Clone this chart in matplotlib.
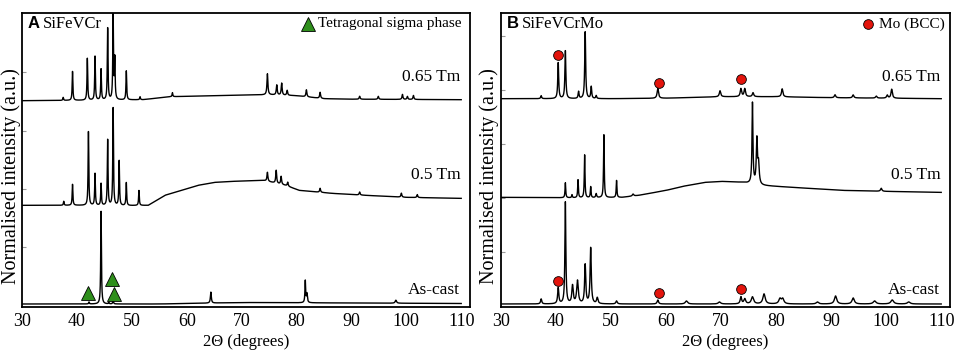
import matplotlib.pyplot as plt
import numpy as np

# ---- panel A: SiFeVCr ----
a_cast_bx = [30, 55, 70, 90, 110]
a_cast_by = [3, 3, 4.5, 4, 3.5]
a_cast_pos = [42.2, 44.4, 45.8, 46.6, 64.4, 81.6, 81.9, 98.1]
a_cast_h = [2, 93, 1.5, 4, 11, 22, 9, 3]
a_cast_w = [0.15, 0.15, 0.15, 0.15, 0.2, 0.15, 0.2, 0.3]

a_05_bx = [30, 40, 47, 53, 56, 59, 62, 65, 68, 74, 78, 80.5, 86.5, 92.7, 100, 110]
a_05_by = [102, 102, 101.5, 102, 112, 117, 122, 125, 126, 127, 122, 117, 114, 112, 110, 109]
a_05_pos = [37.6, 39.2, 42.1, 43.3, 44.4, 45.6, 46.6, 47.7, 49.0, 51.3,
            74.7, 76.3, 77.2, 78.4, 84.3, 91.5, 99.1, 102.0]
a_05_h = [4, 21, 74, 32, 22, 66, 98, 45, 23, 15, 9, 13, 8, 4, 4, 3, 4, 3]
a_05_w = [0.15] * 10 + [0.2] * 8

a_065_bx = [30, 45, 52, 57, 65, 75, 80, 85, 90, 110]
a_065_by = [207, 207.5, 208, 211, 212, 213, 212, 209, 208.5, 208]
a_065_pos = [37.5, 39.2, 41.9, 43.3, 44.4, 45.6, 46.6, 46.9, 49.0, 51.5, 57.4,
             74.7, 76.4, 77.3, 78.3, 81.8, 84.3, 91.5, 94.9, 99.3, 100.2, 101.3]
a_065_h = [3, 29, 42, 44, 31, 72, 86, 40, 29, 3, 4,
           21, 10, 12, 5, 7, 6, 3, 3, 5, 3, 4]
a_065_w = [0.15] * 11 + [0.2] * 11

sigma_x = [42.0, 46.4, 46.7]
sigma_y = [14, 28, 13]

# ---- panel B: SiFeVCrMo ----
b_cast_bx = [30, 110]
b_cast_by = [3, 3]
b_cast_pos = [37.3, 40.4, 41.7, 43.0, 43.9, 45.3, 46.3, 47.5, 51.0, 58.5, 63.7, 69.7,
              73.6, 74.3, 75.7, 77.8, 80.7, 81.2, 87.5, 90.8, 94.0, 97.9, 101.1, 104.1]
b_cast_h = [5, 16, 102, 18, 23, 39, 56, 6, 3, 4, 3, 2,
            7, 5, 7, 10, 5, 5, 2, 8, 6, 3, 4, 2]
b_cast_w = [0.25, 0.25, 0.2, 0.3, 0.35, 0.25, 0.25, 0.3, 0.3, 0.3, 0.5, 0.5,
            0.3, 0.4, 0.5, 0.5, 0.5, 0.5, 0.5, 0.5, 0.5, 0.6, 0.6, 0.6]

b_05_bx = [30, 45, 52, 55, 60, 63, 67, 70, 74, 77, 80, 86, 92, 100, 110]
b_05_by = [110, 109.5, 110, 112, 117, 121, 125, 126, 125, 122, 121, 119, 117, 116, 115]
b_05_pos = [41.7, 42.9, 44.0, 45.2, 46.3, 47.3, 48.7, 51.0, 54.0, 75.7, 76.5, 76.8, 99.1]
b_05_h = [15, 3, 18, 43, 11, 4, 63, 17, 2, 81, 44, 20, 3]
b_05_w = [0.15, 0.15, 0.15, 0.15, 0.15, 0.2, 0.15, 0.15, 0.3, 0.2, 0.25, 0.3, 0.3]

b_065_bx = [30, 50, 60, 70, 80, 90, 110]
b_065_by = [209, 209, 209.5, 211, 211, 210, 209]
b_065_pos = [37.3, 40.4, 41.7, 44.1, 45.3, 46.4, 47.3, 58.5, 69.8, 73.6, 74.3, 75.8,
             81.1, 90.7, 94.0, 98.2, 100.2, 101.0]
b_065_h = [3, 36, 48, 7, 67, 12, 3, 10, 6, 8, 8, 4, 8, 3, 3, 2, 3, 9]
b_065_w = [0.2] * 7 + [0.3] * 11

mo_x = [40.4, 58.7, 73.6, 40.4, 58.7, 73.6]
mo_y = [253, 225, 229, 26, 14, 18]

trace_names = ['0.65 Tm', '0.5 Tm', 'As-cast']
trace_label_y = [231, 132, 17]

x = np.arange(30, 110.001, 0.01)


def pattern(bx, by, pos, h, w):
    y = np.interp(x, bx, by)
    for p, hh, ww in zip(pos, h, w):
        y = y + hh / (1 + ((x - p) / (ww / 2)) ** 2)
    return y


serif = 'Liberation Serif'
fig = plt.figure(figsize=(9.57, 3.5), dpi=100)
axA = fig.add_axes([0.0230, 0.1229, 0.4681, 0.8400])
axB = fig.add_axes([0.5235, 0.1229, 0.4692, 0.8400])

panels = [
    (axA, 'A', 'SiFeVCr', 11,
     [(a_065_bx, a_065_by, a_065_pos, a_065_h, a_065_w),
      (a_05_bx, a_05_by, a_05_pos, a_05_h, a_05_w),
      (a_cast_bx, a_cast_by, a_cast_pos, a_cast_h, a_cast_w)],
     [60, 118.5, 177, 235.5]),
    (axB, 'B', 'SiFeVCrMo', 489,
     [(b_065_bx, b_065_by, b_065_pos, b_065_h, b_065_w),
      (b_05_bx, b_05_by, b_05_pos, b_05_h, b_05_w),
      (b_cast_bx, b_cast_by, b_cast_pos, b_cast_h, b_cast_w)],
     [55, 109, 164, 218, 272]),
]

for ax, letter, alloy, ylab_px, traces, yt in panels:
    for tr in traces:
        ax.plot(x, pattern(*tr), color='black', lw=1.0)
    for name, ly in zip(trace_names, trace_label_y):
        ax.text(0.978, ly, name, transform=ax.get_yaxis_transform(), ha='right', va='center',
                family=serif, fontsize=12.5)
    ax.text(0.013, 0.963, letter, transform=ax.transAxes, ha='left', va='center',
            family='Liberation Sans', fontweight='bold', fontsize=12)
    ax.text(0.047, 0.963, alloy, transform=ax.transAxes, ha='left', va='center',
            family=serif, fontsize=12)
    ax.set_xlim(30, 111.6)
    ax.set_ylim(0, 295)
    ax.set_xticks(range(30, 111, 10))
    ax.set_xticklabels([str(v) for v in range(30, 111, 10)], family=serif, fontsize=13)
    ax.set_yticks(yt)
    ax.set_yticklabels([])
    ax.tick_params(axis='y', direction='in', length=3, color='#999999', width=0.8)
    ax.tick_params(axis='x', length=0, pad=4)
    ax.set_xlabel('2\u0398 (degrees)', family=serif, fontsize=12, labelpad=3)
    fig.text(ylab_px / 957, 1 - 176 / 350, 'Normalised intensity (a.u.)', rotation=90,
             ha='center', va='center', family=serif, fontsize=14.5)
    for sp in ax.spines.values():
        sp.set_linewidth(1.3)

axA.plot(sigma_x, sigma_y, ls='none', marker='^', ms=10, mfc='#2f8f1c', mec='black', mew=0.6)
axA.plot([0.638], [0.963], transform=axA.transAxes, ls='none', marker='^', ms=10,
         mfc='#2f8f1c', mec='black', mew=0.6, clip_on=False)
axA.text(0.982, 0.963, 'Tetragonal sigma phase', transform=axA.transAxes, ha='right',
         va='center', family=serif, fontsize=11)

axB.plot(mo_x, mo_y, ls='none', marker='o', ms=7, mfc='#e3140c', mec='black', mew=0.6)
axB.plot([0.817], [0.963], transform=axB.transAxes, ls='none', marker='o', ms=7,
         mfc='#e3140c', mec='black', mew=0.6, clip_on=False)
axB.text(0.989, 0.963, 'Mo (BCC)', transform=axB.transAxes, ha='right', va='center',
         family=serif, fontsize=11)

fig.savefig('out.png', dpi=100)
